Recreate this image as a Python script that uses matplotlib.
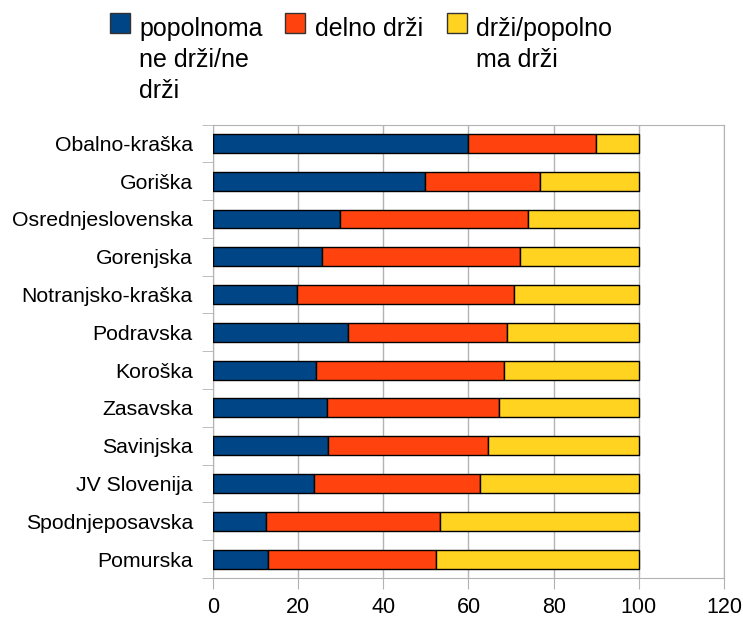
import matplotlib.pyplot as plt
from matplotlib.patches import Rectangle
import numpy as np

plt.rcParams['font.family'] = ['Liberation Sans', 'DejaVu Sans']

regije = ["Obalno-kraška", "Goriška", "Osrednjeslovenska", "Gorenjska",
          "Notranjsko-kraška", "Podravska", "Koroška", "Zasavska",
          "Savinjska", "JV Slovenija", "Spodnjeposavska", "Pomurska"]
ne_drzi = [60.0, 49.9, 29.9, 25.7, 19.7, 31.6, 24.1, 26.7, 27.0, 23.8, 12.5, 12.9]
delno = [30.0, 26.8, 44.0, 46.3, 50.9, 37.4, 44.3, 40.4, 37.6, 38.9, 40.7, 39.4]
drzi = [10.0, 23.3, 26.1, 28.0, 29.4, 31.0, 31.6, 32.9, 35.4, 37.3, 46.8, 47.7]

serije = ["popolnoma\nne drži/ne\ndrži", "delno drži", "drži/popolno\nma drži"]
barve = ["#004586", "#ff420e", "#ffd320"]

fig = plt.figure(figsize=(7.43, 6.17), dpi=100)
ax = fig.add_axes([213/743, 1-578/617, (724-213)/743, (578-124.5)/617])

y = np.arange(len(regije))
left = np.zeros(len(regije))
for vals, c in zip([ne_drzi, delno, drzi], barve):
    ax.barh(y, vals, left=left, height=0.5, color=c, edgecolor='black',
            linewidth=1, zorder=3)
    left = left + np.array(vals)

ax.set_xlim(0, 120)
ax.set_ylim(len(regije) - 0.5, -0.5)
ax.set_xticks(range(0, 121, 20))
ax.set_yticks(y)
ax.set_yticklabels(regije)
ax.set_yticks(np.arange(-0.5, len(regije), 1), minor=True)
ax.grid(axis='x', color='#b3b3b3', linewidth=1, zorder=0)
for s in ax.spines.values():
    s.set_color('#b3b3b3')
ax.tick_params(axis='y', which='major', length=0, pad=14.5, labelsize=15.3)
ax.tick_params(axis='y', which='minor', length=8, color='#b3b3b3', direction='out')
ax.tick_params(axis='x', length=8, color='#b3b3b3', direction='out', pad=6,
               labelsize=15.5)

# legenda
leg_x = [110, 285, 447]
txt_x = [139, 315, 476]
for lx, tx, txt, c in zip(leg_x, txt_x, serije, barve):
    fig.add_artist(Rectangle((lx/743, 1-33/617), 20/743, 20/617,
                             transform=fig.transFigure, facecolor=c,
                             edgecolor='#333333', linewidth=1))
    fig.text(tx/743, 1-17/617, txt, fontsize=18, va='top', ha='left',
             linespacing=1.36)

fig.savefig("out.png", dpi=100)
